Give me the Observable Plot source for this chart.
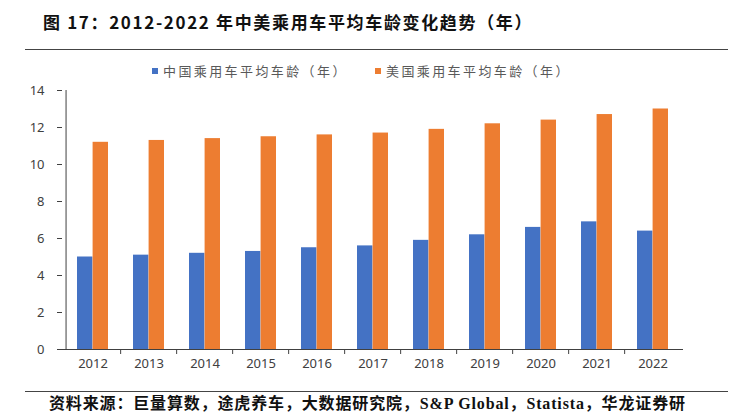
<!DOCTYPE html>
<html>
<head>
<meta charset="utf-8">
<script src="https://cdn.jsdelivr.net/npm/d3@7"></script>
<script src="https://cdn.jsdelivr.net/npm/@observablehq/plot@0.6"></script>
<style>
  html, body { margin: 0; padding: 0; background: #fff; }
  #wrap { position: relative; width: 743px; height: 419px; overflow: hidden; }
  .title { position: absolute; left: 43px; top: 10px; font-family: "Noto Sans CJK SC", sans-serif; font-weight: bold; font-size: 17px; letter-spacing: 1.65px; color: #111; white-space: nowrap; line-height: 24px; }
  .hline { position: absolute; left: 25px; width: 703px; height: 1px; background: #444; }
  .legend { position: absolute; top: 61px; font-family: "Noto Sans CJK SC", sans-serif; font-size: 13px; letter-spacing: 2.4px; color: #595959; white-space: nowrap; line-height: 20px; }
  .legend .sw { display: inline-block; width: 6px; height: 6px; margin-right: 5px; vertical-align: 2px; }
  .caption { position: absolute; left: 49px; top: 393px; font-family: "Liberation Serif", "Noto Sans CJK SC", serif; font-weight: bold; font-size: 16px; letter-spacing: 0.85px; color: #111; white-space: nowrap; line-height: 22px; }
  #chart { position: absolute; left: 0; top: 80px; }
</style>
</head>
<body>
<div id="wrap">
  <div class="title">图 17：2012-2022 年中美乘用车平均车龄变化趋势（年）</div>
  <div class="hline" style="top:49px"></div>
  <div id="legend"></div>
  <div id="chart"></div>
  <div class="hline" style="top:391px"></div>
  <div class="caption">资料来源：巨量算数，途虎养车，大数据研究院，S&amp;P Global，Statista，华龙证券研</div>
</div>
<script>
const years = ["2012","2013","2014","2015","2016","2017","2018","2019","2020","2021","2022"];
const chinaAge = [5.0, 5.1, 5.2, 5.3, 5.5, 5.6, 5.9, 6.2, 6.6, 6.9, 6.4];
const usAge = [11.2, 11.3, 11.4, 11.5, 11.6, 11.7, 11.9, 12.2, 12.4, 12.7, 13.0];
const seriesNames = ["中国乘用车平均车龄（年）", "美国乘用车平均车龄（年）"];
const seriesColors = ["#4472C4", "#ED7D31"];
const yTicks = [0, 2, 4, 6, 8, 10, 12, 14];

const W = 743, H = 300;
const mL = 62, mR = 60, mT = 10, mB = 31;
const padInner = 0.45, padOuter = 0.2;
const step = (W - mL - mR) / (years.length - padInner + 2 * padOuter);
const bw = step * (1 - padInner);

const china = years.map((y, i) => ({year: y, value: chinaAge[i]}));
const us = years.map((y, i) => ({year: y, value: usAge[i]}));

const font = '"Noto Sans", "Liberation Sans", sans-serif';
const axisColor = "#404040";

const plot = Plot.plot({
  width: W, height: H,
  marginLeft: mL, marginRight: mR, marginTop: mT, marginBottom: mB,
  style: {fontFamily: font, fontSize: "13px", color: axisColor, background: "transparent"},
  x: {type: "band", domain: years, paddingInner: padInner, paddingOuter: padOuter, label: null},
  y: {type: "linear", domain: [0, 14], label: null},
  marks: [
    Plot.barY(china, {x: "year", y: "value", fill: seriesColors[0], insetLeft: 0, insetRight: bw / 2}),
    Plot.barY(us, {x: "year", y: "value", fill: seriesColors[1], insetLeft: bw / 2, insetRight: 0}),
    Plot.axisY({ticks: yTicks, tickSize: 5, tickPadding: 13, stroke: axisColor, fill: axisColor, tickFormat: d => d, fontSize: 13}),
    Plot.ruleX([years[0]], {x: d => d, dx: -(padOuter * step + bw / 2), y1: 0, y2: 14, stroke: axisColor}),
    Plot.axisX({tickSize: 0, tickPadding: 9, fill: axisColor, fontSize: 13}),
    Plot.axisX({ticks: years.slice(1), tickSize: 5, tickFormat: () => "", dx: -step / 2, stroke: axisColor}),
    Plot.ruleY([0], {stroke: axisColor, strokeWidth: 1.2}),
  ]
});
document.getElementById("chart").appendChild(plot);

// legend
const leg = document.getElementById("legend");
const legLeft = [152, 375];
seriesNames.forEach((n, i) => {
  const d = document.createElement("div");
  d.className = "legend";
  d.style.left = legLeft[i] + "px";
  d.innerHTML = `<span class="sw" style="background:${seriesColors[i]}"></span>${n}`;
  leg.appendChild(d);
});
</script>
</body>
</html>
